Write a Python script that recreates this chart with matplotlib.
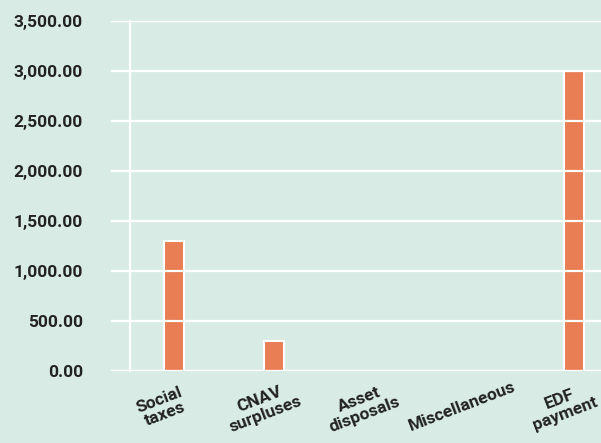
import matplotlib
matplotlib.use("Agg")
import matplotlib.pyplot as plt
import matplotlib.transforms as mtransforms
import numpy as np

# data
categories = ["Social\ntaxes", "CNAV\nsurpluses", "Asset\ndisposals", "Miscellaneous", "EDF\npayment"]
values = [1300, 300, 0, 0, 3000]
y_ticks = [0, 500, 1000, 1500, 2000, 2500, 3000, 3500]

BG = "#d8ece5"
BAR = "#e97d54"
TEXT = "#222222"


def main():
    plt.rcParams["font.family"] = ["Roboto", "DejaVu Sans"]
    fig = plt.figure(figsize=(6.01, 4.43), dpi=100, facecolor=BG)
    ax = fig.add_axes([111 / 601, 72 / 443, 490 / 601, 350 / 443], facecolor=BG)

    # spine first: moving it resets the ticks
    for side in ["top", "right", "bottom"]:
        ax.spines[side].set_visible(False)
    ax.spines["left"].set_position(("axes", 19 / 490))
    ax.spines["left"].set_color("white")
    ax.spines["left"].set_linewidth(1.6)
    ax.spines["left"].set_zorder(3)

    x = np.arange(len(categories))
    ax.bar(x, values, width=0.2, color=BAR, edgecolor="white", linewidth=1.5, zorder=2)

    ax.set_xlim(-0.633, 4.267)
    ax.set_ylim(0, 3500)

    # white gridlines on top of the bars
    ax.set_yticks(y_ticks)
    ax.set_yticklabels([f"{v:,.2f}" for v in y_ticks], fontsize=12.5, fontweight="bold", color=TEXT)
    ax.yaxis.grid(True, color="white", linewidth=1.6, zorder=3)
    ax.set_axisbelow(False)
    ax.tick_params(axis="y", length=0, pad=34)

    # category labels, rotated, drawn as text under each bar
    ax.set_xticks(x)
    ax.set_xticklabels([])
    ax.tick_params(axis="x", length=0)
    shift = mtransforms.ScaledTranslation(-12 / 100, -36 / 100, fig.dpi_scale_trans)
    for xi, name in zip(x, categories):
        ax.text(xi, 0, name, transform=ax.get_xaxis_transform() + shift,
                fontsize=12.5, fontweight="bold", color=TEXT, rotation=21,
                rotation_mode="anchor", ha="center", va="center",
                multialignment="center", linespacing=1.05)

    fig.savefig("out.png", dpi=100, facecolor=BG)


if __name__ == "__main__":
    main()
